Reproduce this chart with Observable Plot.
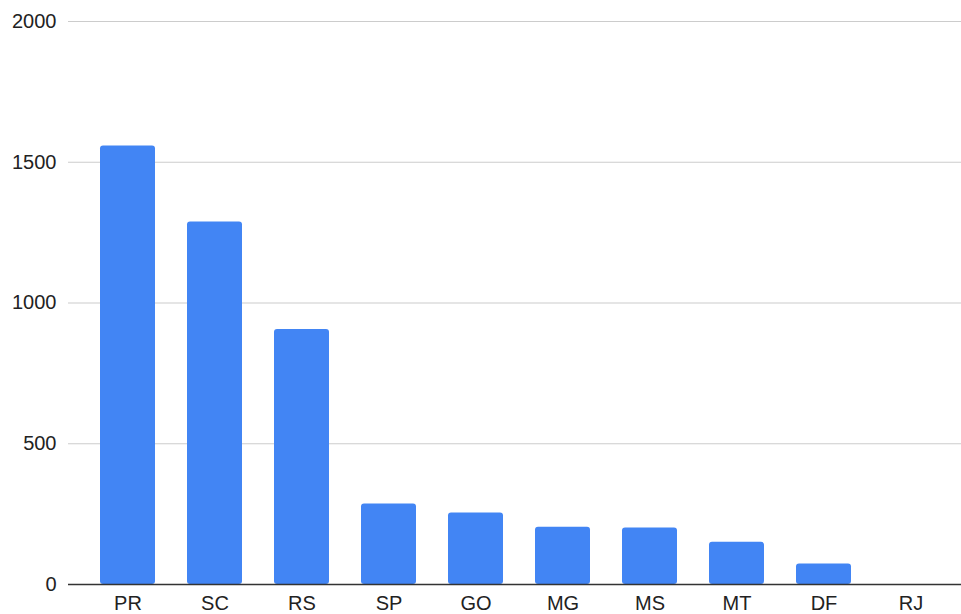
<!DOCTYPE html>
<html>
<head>
<meta charset="utf-8">
<script src="https://cdn.jsdelivr.net/npm/d3@7"></script>
<script src="https://cdn.jsdelivr.net/npm/@observablehq/plot@0.6"></script>
<style>
  html, body { margin: 0; padding: 0; background: #fff; }
  #chart svg { display: block; }
</style>
</head>
<body>
<div id="chart"></div>
<script>
const states = ["PR", "SC", "RS", "SP", "GO", "MG", "MS", "MT", "DF", "RJ"];
const counts = [1558, 1288, 906, 286, 254, 203, 201, 150, 73, 0];
const yTicks = [0, 500, 1000, 1500, 2000];

const data = states.map((s, i) => ({state: s, count: counts[i]}));

const chart = Plot.plot({
  width: 961,
  height: 614,
  marginTop: 21,
  marginBottom: 30,
  marginLeft: 68,
  marginRight: 0,
  style: {fontFamily: "'Liberation Sans', Arial, sans-serif", fontSize: "20px", color: "#222", background: "#fff"},
  x: {domain: states, range: [84, 954], paddingInner: 0.37, paddingOuter: 0.185, label: null, tickSize: 0, tickPadding: 11},
  y: {domain: [0, 2000], ticks: yTicks, tickFormat: "d", label: null, tickSize: 0, tickPadding: 12},
  marks: [
    Plot.ruleY(yTicks.filter(d => d > 0), {stroke: "#cccccc", strokeWidth: 1.2}),
    Plot.barY(data, {x: "state", y: "count", fill: "#4285F4", rx: 3}),
    Plot.ruleY([0], {stroke: "#333333", strokeWidth: 1.5})
  ]
});
document.getElementById("chart").appendChild(chart);
</script>
</body>
</html>
